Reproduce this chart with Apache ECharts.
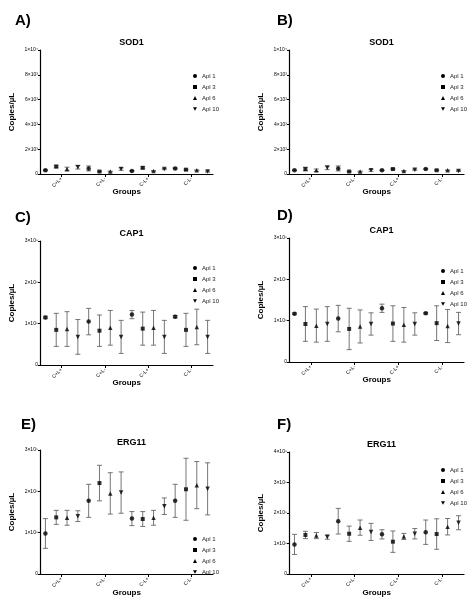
<!DOCTYPE html><html><head><meta charset="utf-8"><script src="https://cdn.jsdelivr.net/npm/echarts@6/dist/echarts.min.js"></script></head><body style="margin:0"><div id="c" style="width:474px;height:605px"></div><script>
const groups=["C+L+","C+L-","C-L+","C-L-"];
const seriesNames=["Apl 1","Apl 3","Apl 6","Apl 10"];
// values per panel: [series][group] mean and sd
const A_mean=[[300,450,250,450],[600,200,500,350],[400,200,250,300],[550,400,400,200]];
const A_sd=[[50,200,30,50],[100,30,80,50],[150,30,30,30],[150,100,50,50]];
const B_mean=[[300,450,300,400],[400,200,400,300],[300,200,250,300],[500,300,350,250]];
const B_sd=[[30,200,30,30],[150,30,50,30],[100,30,30,30],[150,80,50,50]];
const C_mean=[[1.15,1.05,1.22,1.17],[0.85,0.83,0.88,0.85],[0.87,0.9,0.9,0.92],[0.68,0.68,0.68,0.68]];
const C_sd=[[0.03,0.32,0.1,0.03],[0.4,0.38,0.4,0.4],[0.42,0.42,0.42,0.43],[0.42,0.4,0.4,0.4]];
const D_mean=[[1.17,1.05,1.3,1.18],[0.92,0.8,0.93,0.94],[0.88,0.86,0.9,0.87],[0.92,0.92,0.92,0.93]];
const D_sd=[[0.02,0.32,0.1,0.02],[0.42,0.5,0.43,0.42],[0.4,0.4,0.42,0.4],[0.42,0.27,0.27,0.27]];
const E_mean=[[0.98,1.77,1.34,1.77],[1.37,2.2,1.33,2.05],[1.36,1.95,1.36,2.15],[1.4,1.97,1.64,2.06]];
const E_sd=[[0.36,0.4,0.17,0.4],[0.17,0.43,0.18,0.75],[0.18,0.5,0.18,0.57],[0.13,0.5,0.2,0.63]];
const F_mean=[[0.97,1.73,1.3,1.37],[1.28,1.32,1.06,1.31],[1.26,1.52,1.23,1.55],[1.21,1.38,1.32,1.68]];
const F_sd=[[0.33,0.42,0.15,0.4],[0.12,0.25,0.35,0.5],[0.1,0.25,0.1,0.27],[0.07,0.28,0.17,0.23]];
const yTicksSOD=["0","2×10³","4×10³","6×10³","8×10³","1×10⁴"];
const yTicksCAP=["0","1×10⁵","2×10⁵","3×10⁵"];
const yTicksE=["0","1×10⁵","2×10⁵","3×10⁵"];
const yTicksF=["0","1×10⁵","2×10⁵","3×10⁵","4×10⁵"];

const panels=[
 {L:"A)",t:"SOD1",m:A_mean,s:A_sd,max:10000,iv:2000,tk:yTicksSOD,g:[40,50,213,174],leg:[188,68],lab:[10,8],gx:197},
 {L:"B)",t:"SOD1",m:B_mean,s:B_sd,max:10000,iv:2000,tk:yTicksSOD,g:[289,50,464,174],leg:[436,68],lab:[272,8],gx:197},
 {L:"C)",t:"CAP1",m:C_mean,s:C_sd,max:3,iv:1,tk:yTicksCAP,g:[40,241,213,365],leg:[188,260],lab:[10,205],gx:388},
 {L:"D)",t:"CAP1",m:D_mean,s:D_sd,max:3,iv:1,tk:yTicksCAP,g:[289,238,464,362],leg:[436,263],lab:[272,203],gx:385},
 {L:"E)",t:"ERG11",m:E_mean,s:E_sd,max:3,iv:1,tk:yTicksE,g:[40,450,213,574],leg:[188,531],lab:[16,412],gx:598},
 {L:"F)",t:"ERG11",m:F_mean,s:F_sd,max:4,iv:1,tk:yTicksF,g:[289,452,464,574],leg:[436,462],lab:[272,412],gx:598}
];
const syms=['circle','rect','triangle','path://M0,0L10,0L5,9Z'];
const opt={animation:false,color:['#000','#000','#000','#000'],title:[],grid:[],xAxis:[],yAxis:[],legend:[],series:[],graphic:[]};
panels.forEach((p,i)=>{
 const [l,t,r,b]=p.g;
 opt.grid.push({left:l,top:t,width:r-l,height:b-t});
 opt.title.push({text:p.L,left:p.lab[0],top:p.lab[1],textStyle:{fontSize:15,fontWeight:'bold',fontFamily:'Liberation Sans',color:'#000'}});
 opt.title.push({text:p.t,left:(l+r)/2,top:t-17,textAlign:'center',textStyle:{fontSize:9,fontWeight:'bold',fontFamily:'Liberation Sans',color:'#000'}});
 opt.graphic.push({type:'text',left:(l+r)/2-14,top:p.gx-9,style:{text:'Groups',font:'bold 8px Liberation Sans',fill:'#000'}});
 opt.xAxis.push({type:'value',gridIndex:i,min:0,max:16,splitLine:{show:false},
  axisLine:{lineStyle:{color:'#000',width:1.2}},
  axisTick:{customValues:[2,6,10,14],length:3,lineStyle:{color:'#000'}},
  axisLabel:{customValues:[2,6,10,14],rotate:45,fontSize:5,color:'#000',margin:4,formatter:v=>groups[(v-2)/4]}});
 opt.yAxis.push({type:'value',gridIndex:i,min:0,max:p.max,interval:p.iv,splitLine:{show:false},
  name:'Copies/µL',nameLocation:'middle',nameGap:24,nameTextStyle:{fontSize:8,fontWeight:'bold',fontFamily:'Liberation Sans',color:'#000'},
  axisLine:{show:true,lineStyle:{color:'#000',width:1.2}},axisTick:{show:true,length:2,lineStyle:{color:'#000'}},
  axisLabel:{fontSize:5,color:'#000',margin:2,formatter:(v)=>p.tk[Math.round(v/p.iv)]}});
 opt.legend.push({left:p.leg[0],top:p.leg[1],orient:'vertical',itemWidth:4,itemHeight:4,itemGap:5,
  textStyle:{fontSize:6,color:'#222'},data:seriesNames.map((n,k)=>({name:n,icon:syms[k],itemStyle:{color:'#000'}}))});
 seriesNames.forEach((n,k)=>{
  const pts=groups.map((g,j)=>[4*j+0.5+k,p.m[k][j],p.s[k][j]]);
  opt.series.push({type:'custom',name:n,xAxisIndex:i,yAxisIndex:i,data:pts,z:1,itemStyle:{color:'#000'},
   renderItem:(params,api)=>{const x=api.value(0),y=api.value(1),s=api.value(2);
    const top=api.coord([x,y+s]),bot=api.coord([x,y-s]);const c=top[0];
    const st={stroke:'#666',lineWidth:0.9};
    return {type:'group',children:[
     {type:'line',shape:{x1:c,y1:top[1],x2:c,y2:bot[1]},style:st},
     {type:'line',shape:{x1:c-2.5,y1:top[1],x2:c+2.5,y2:top[1]},style:st},
     {type:'line',shape:{x1:c-2.5,y1:bot[1],x2:c+2.5,y2:bot[1]},style:st}]};}});
  opt.series.push({type:'scatter',name:n,xAxisIndex:i,yAxisIndex:i,data:pts.map(q=>[q[0],q[1]]),
   symbol:syms[k],symbolSize:k==1?4:4.5,itemStyle:{color:'#000'},z:3});
 });
});
echarts.init(document.getElementById('c')).setOption(opt);
</script></body></html>
